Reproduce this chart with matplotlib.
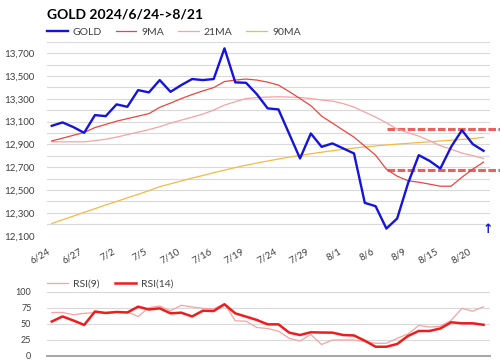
import numpy as np
import matplotlib
matplotlib.use('Agg')
import matplotlib.pyplot as plt

plt.rcParams['font.family'] = ['Lato', 'DejaVu Sans']

# daily gold price and moving averages, 6/24 -> 8/21
gold = [13063, 13093, 13052, 13002, 13157, 13148, 13251, 13230, 13376, 13356,
        13464, 13361, 13420, 13473, 13464, 13473, 13742, 13444, 13440, 13340,
        13216, 13207, 12992, 12777, 12996, 12879, 12909, 12865, 12821, 12388,
        12359, 12163, 12251, 12558, 12806, 12756, 12689, 12879, 13025, 12903,
        12844]
ma9 = [12930, 12955, 12980, 13005, 13048, 13075, 13104, 13126, 13148, 13170,
       13225, 13262, 13302, 13337, 13369, 13398, 13451, 13464, 13473, 13464,
       13446, 13420, 13363, 13302, 13240, 13148, 13087, 13025, 12964, 12885,
       12806, 12683, 12622, 12582, 12569, 12552, 12534, 12534, 12613, 12683,
       12745]
ma21 = [12923, 12923, 12923, 12923, 12933, 12946, 12964, 12986, 13008, 13030,
        13056, 13087, 13113, 13139, 13166, 13201, 13245, 13275, 13302, 13311,
        13315, 13318, 13315, 13312, 13302, 13289, 13280, 13258, 13227, 13183,
        13140, 13090, 13034, 13003, 12973, 12933, 12889, 12859, 12824, 12802,
        12777]
ma90 = [12207, 12240, 12272, 12305, 12337, 12370, 12400, 12432, 12463, 12495,
        12530, 12555, 12580, 12605, 12628, 12652, 12675, 12697, 12718, 12737,
        12755, 12772, 12788, 12804, 12818, 12832, 12845, 12857, 12868, 12878,
        12887, 12895, 12903, 12910, 12917, 12923, 12930, 12937, 12944, 12951,
        12962]
rsi9 = [67.5, 67.5, 64, 66.2, 67.2, 67.5, 68.3, 68.4, 61.3, 75, 77.7, 70.2,
        78.8, 76.1, 74, 73.3, 81.3, 54.5, 53.9, 44, 42.5, 38.3, 27.2, 23, 33.1,
        17.5, 24.5, 24.5, 24.5, 22.2, 19.4, 19.4, 27.2, 33.9, 47.2, 44.8, 45.9,
        55.3, 74, 69.5, 76.6]
rsi14 = [53.4, 61.3, 55, 48, 69, 66.7, 68.3, 67.5, 76.6, 72.2, 74, 66.2, 67.2,
         61.3, 70.3, 69.8, 80.3, 66.2, 61, 55.8, 49, 49, 36, 32.3, 36.6, 36.2,
         36, 32.3, 31.6, 23.4, 14, 14, 18.3, 30.8, 38.6, 38.6, 42.5, 52.2, 50.6,
         50.6, 48.3]
date_labels = ['6/24', '6/27', '7/2', '7/5', '7/10', '7/16', '7/19', '7/24',
               '7/29', '8/1', '8/6', '8/9', '8/15', '8/20']
levels = [13035, 12675]
level_span = (31.1, 41.6)

x = np.arange(len(gold))
grid_c = '#d9d9d9'
txt_c = '#404040'

fig = plt.figure(figsize=(5, 3.61), dpi=100)
ax = fig.add_axes([0.0934, 0.347, 0.8866, 0.5374])
ax2 = fig.add_axes([0.0934, 0.0147, 0.8866, 0.1773])

# main price chart
ax.plot(x, gold, color='#1414dc', lw=1.7, label='GOLD', zorder=5)
ax.plot(x, ma9, color='#e8473f', lw=0.9, label='9MA', zorder=4)
ax.plot(x, ma21, color='#f5a3a3', lw=0.9, label='21MA', zorder=3)
ax.plot(x, ma90, color='#f5b945', lw=0.9, label='90MA', zorder=3)
for lv in levels:
    ax.plot(level_span, [lv, lv], color='#e53935', lw=2.2, ls=(0, (2.5, 0.8)),
            alpha=0.8, clip_on=False, zorder=2)

ax.set_xlim(-0.47, 40.6)
ax.set_ylim(12100, 13800)
ax.set_yticks(np.arange(12100, 13801, 100), minor=True)
ax.set_yticks(np.arange(12100, 13800, 200))
ax.set_yticklabels([f'{v:,}' for v in range(12100, 13800, 200)])
ax.grid(axis='y', which='both', color=grid_c, lw=0.8)
ax.set_axisbelow(True)
ax.set_xticks(x[::3])
ax.set_xticklabels(date_labels, rotation=30, ha='right')
ax.tick_params(which='both', length=0, labelsize=7, colors=txt_c)
ax.tick_params(axis='y', pad=9)
ax.tick_params(axis='x', pad=8)
for s in ax.spines.values():
    s.set_visible(False)
ax.text(0.9955, 0.03, '\u2191', transform=ax.transAxes, color='#1414dc',
        fontsize=9, fontweight='bold', ha='center', va='center',
        family='DejaVu Sans')
ax.legend(ncol=4, loc='center left', bbox_to_anchor=(0, 1.05), frameon=False,
          borderaxespad=0, borderpad=0, handlelength=2.0, handletextpad=0.5,
          columnspacing=1.3, fontsize=7.5, labelcolor=txt_c)

fig.text(0.094, 0.949, 'GOLD 2024/6/24->8/21', fontsize=10,
         fontweight='bold', color='black', va='baseline')

# RSI panel
ax2.plot(x, rsi9, color='#f5a3a3', lw=0.9, label='RSI(9)')
ax2.plot(x, rsi14, color='#ee1c1c', lw=1.8, label='RSI(14)')
ax2.set_xlim(-0.47, 40.6)
ax2.set_ylim(0, 100)
ax2.set_yticks([0, 25, 50, 75, 100])
ax2.set_xticks([])
ax2.grid(axis='y', color=grid_c, lw=0.8)
ax2.set_axisbelow(True)
ax2.tick_params(length=0, labelsize=6.5, colors=txt_c, pad=11)
for s in ax2.spines.values():
    s.set_visible(False)
ax2.spines['bottom'].set_visible(True)
ax2.spines['bottom'].set_color('#a6a6a6')
ax2.spines['bottom'].set_linewidth(1.4)
ax2.legend(ncol=2, loc='center left', bbox_to_anchor=(0, 1.12), frameon=False,
           borderaxespad=0, borderpad=0, handlelength=2.0, handletextpad=0.5,
           columnspacing=1.5, fontsize=7.5, labelcolor=txt_c)

fig.savefig('out.png', dpi=100)
